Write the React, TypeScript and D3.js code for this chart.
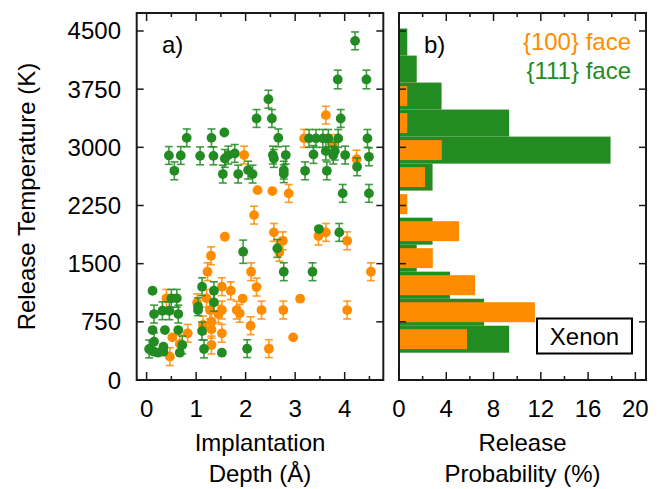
import React from 'react';
import * as d3 from 'd3';

// ---------- data ----------
const tempTicks = [0, 750, 1500, 2250, 3000, 3750, 4500];
const depthTicks = [0, 1, 2, 3, 4];
const depthMinor = [0.5, 1.5, 2.5, 3.5, 4.5];
const probTicks = [0, 4, 8, 12, 16, 20];
const probMinor = [2, 6, 10, 14, 18];

// [depth (Å), release temperature (K), error (K)]
const face111: [number, number, number][] = [
  [4.21, 4373, 115], [3.86, 3875, 120], [4.44, 3875, 120], [2.46, 3621, 115],
  [2.22, 3372, 115], [2.53, 3372, 115], [3.92, 3372, 115],
  [0.81, 3122, 115], [1.31, 3122, 115], [2.66, 3122, 115], [3.28, 3115, 115],
  [3.42, 3115, 115], [3.56, 3115, 115], [3.67, 3115, 115], [3.87, 3115, 115],
  [4.46, 3115, 115], [1.57, 3191, 0],
  [0.45, 2895, 115], [0.69, 2895, 115], [1.08, 2890, 115], [1.35, 2890, 115],
  [1.58, 2857, 115], [1.65, 2900, 115], [1.78, 2921, 115], [2.55, 2900, 115],
  [2.57, 2857, 115], [2.81, 2900, 115], [3.37, 2908, 115], [3.62, 2951, 115],
  [3.80, 2951, 115], [3.77, 2900, 115], [4.01, 2900, 115], [4.49, 2878, 115],
  [4.25, 2749, 115], [0.56, 2697, 115], [1.54, 2655, 115], [1.85, 2655, 115],
  [2.05, 2706, 115], [2.14, 2655, 115], [2.77, 2706, 115], [2.77, 2660, 115],
  [3.20, 2697, 115], [3.64, 2697, 115], [3.96, 2406, 115], [4.49, 2406, 115],
  [3.48, 1946, 0], [3.89, 1903, 115], [1.95, 1654, 150], [2.64, 1697, 115],
  [2.77, 1396, 115], [3.35, 1396, 115],
  [0.12, 1151, 0], [1.12, 1203, 115], [1.36, 1151, 115], [0.50, 1053, 115],
  [0.61, 1053, 115], [1.04, 945, 115], [1.04, 902, 0], [1.36, 1001, 115],
  [0.32, 893, 115], [0.46, 893, 115], [0.15, 850, 115], [0.64, 850, 115],
  [0.12, 644, 0], [0.37, 644, 0], [0.64, 644, 0], [1.12, 631, 115],
  [0.15, 494, 115], [0.72, 451, 115], [0.05, 400, 115], [0.15, 365, 0],
  [0.23, 352, 0], [0.34, 365, 0], [0.34, 429, 0], [0.10, 380, 0],
  [0.67, 352, 0], [1.16, 400, 115], [1.52, 352, 0], [2.03, 404, 115],
];

const face100: [number, number, number][] = [
  [3.62, 3415, 115], [3.18, 3115, 115], [3.75, 3050, 115], [1.97, 2900, 115],
  [4.24, 2848, 115], [2.24, 2448, 0], [2.54, 2436, 0], [2.87, 2406, 115],
  [2.17, 2126, 115], [2.57, 1903, 115], [2.75, 1795, 115], [3.47, 1856, 115],
  [3.62, 1903, 115], [4.05, 1795, 115], [1.58, 1847, 0], [1.30, 1602, 115],
  [2.68, 1646, 115], [1.23, 1396, 115], [2.11, 1396, 115], [4.53, 1396, 115],
  [1.52, 1203, 115], [2.22, 1198, 115], [1.70, 1151, 115], [0.40, 1053, 115],
  [1.21, 1053, 115], [1.94, 1050, 0], [3.10, 1048, 0], [1.02, 996, 115],
  [1.28, 902, 115], [1.52, 902, 115], [1.82, 902, 115], [1.88, 860, 115],
  [1.45, 850, 115], [2.32, 902, 115], [2.76, 902, 115], [4.05, 902, 115],
  [1.31, 751, 115], [1.14, 709, 115], [2.10, 700, 115], [1.31, 653, 115],
  [0.83, 602, 115], [1.52, 602, 115], [0.52, 550, 0], [2.96, 550, 0],
  [0.67, 464, 115], [1.31, 451, 115], [2.47, 404, 115], [0.47, 301, 115],
];

// histogram bins (K) and release probability (%)
const binEdges = [352, 700, 1048, 1397, 1745, 2093, 2442, 2790, 3138, 3487, 3835, 4183, 4532];
const hist111 = [9.32, 7.2, 4.32, 1.5, 2.84, 0, 2.84, 17.9, 9.32, 3.6, 1.5, 0.7];
const hist100 = [5.76, 11.5, 6.44, 2.86, 5.08, 0.7, 2.2, 3.62, 0.7, 0.7, 0, 0];

// ---------- style ----------
const GREEN = '#228B22';
const ORANGE = '#FF8C00';
const INK = '#1a1a1a';
const FONT = '"Liberation Sans", Arial, Helvetica, sans-serif';
const FS = 24;

export default function App() {
  const W = 669, H = 489;
  const y = d3.scaleLinear().domain([0, 4732]).range([380, 13]);
  const xa = d3.scaleLinear().domain([-0.2, 4.78]).range([136.7, 383.3]);
  const xb = d3.scaleLinear().domain([0, 20.9]).range([399, 646]);
  const [aL, aR] = xa.range();
  const [bL, bR] = xb.range();
  const yB = y.range()[0], yT = y.range()[1];
  const major = 8, minor = 4, ytick = 7;

  const errBars = (pts: [number, number, number][], color: string) =>
    pts.filter(p => p[2] > 0).map((p, i) => {
      const cx = xa(p[0]);
      const y1 = y(p[1] - p[2]);
      const y2 = y(p[1] + p[2]);
      return (
        <g key={'e' + color + i} stroke={color} strokeWidth={1.6} strokeOpacity={0.85}>
          <line x1={cx} x2={cx} y1={y1} y2={y2} />
          <line x1={cx - 4} x2={cx + 4} y1={y1} y2={y1} />
          <line x1={cx - 4} x2={cx + 4} y1={y2} y2={y2} />
        </g>
      );
    });
  const dots = (pts: [number, number, number][], color: string) =>
    pts.map((p, i) => <circle key={'d' + color + i} cx={xa(p[0])} cy={y(p[1])} r={4.9} fill={color} />);

  const bins = hist111.map((_, i) => ({ lo: binEdges[i], hi: binEdges[i + 1] }));

  const tickText = { fontFamily: FONT, fontSize: FS, fill: '#000' } as const;

  return (
    <svg width={W} height={H} style={{ position: 'absolute', left: 0, top: 0, background: '#fff' }}>
      <rect x={0} y={0} width={W} height={H} fill="#fff" />

      {/* ---------- panel a ---------- */}
      {errBars(face100, ORANGE)}
      {dots(face100, ORANGE)}
      {errBars(face111, GREEN)}
      {dots(face111, GREEN)}

      {/* ---------- panel b ---------- */}
      {bins.map((b, i) => hist111[i] > 0 && (
        <rect key={'g' + i} x={xb(0)} y={y(b.hi)} width={xb(hist111[i]) - xb(0)} height={y(b.lo) - y(b.hi)} fill={GREEN} />
      ))}
      {bins.map((b, i) => {
        if (hist100[i] <= 0) return null;
        const h = y(b.lo) - y(b.hi);
        return <rect key={'o' + i} x={xb(0)} y={y(b.hi) + h * 0.13} width={xb(hist100[i]) - xb(0)} height={h * 0.74} fill={ORANGE} />;
      })}

      {/* frames */}
      <rect x={aL} y={yT} width={aR - aL} height={yB - yT} fill="none" stroke={INK} strokeWidth={2} />
      <rect x={bL} y={yT} width={bR - bL} height={yB - yT} fill="none" stroke={INK} strokeWidth={2} />

      {/* y ticks both panels */}
      {tempTicks.map(t => (
        <g key={'yt' + t} stroke={INK} strokeWidth={1.5}>
          <line x1={aL} x2={aL + ytick} y1={y(t)} y2={y(t)} />
          <line x1={aR - ytick} x2={aR} y1={y(t)} y2={y(t)} />
          <line x1={bL} x2={bL + ytick} y1={y(t)} y2={y(t)} />
          <line x1={bR - ytick} x2={bR} y1={y(t)} y2={y(t)} />
        </g>
      ))}
      {tempTicks.map(t => (
        <text key={'yl' + t} x={121} y={y(t) + 8.5} textAnchor="end" {...tickText}>{t}</text>
      ))}

      {/* x ticks panel a */}
      {depthTicks.map(t => (
        <g key={'xa' + t} stroke={INK} strokeWidth={1.5}>
          <line x1={xa(t)} x2={xa(t)} y1={yB} y2={yB - major} />
          <line x1={xa(t)} x2={xa(t)} y1={yT} y2={yT + major} />
        </g>
      ))}
      {depthMinor.map(t => (
        <g key={'xam' + t} stroke={INK} strokeWidth={1.5}>
          <line x1={xa(t)} x2={xa(t)} y1={yB} y2={yB - minor} />
          <line x1={xa(t)} x2={xa(t)} y1={yT} y2={yT + minor} />
        </g>
      ))}
      {depthTicks.map(t => (
        <text key={'xal' + t} x={xa(t)} y={417} textAnchor="middle" {...tickText}>{t}</text>
      ))}

      {/* x ticks panel b */}
      {probTicks.map(t => (
        <g key={'xb' + t} stroke={INK} strokeWidth={1.5}>
          <line x1={xb(t)} x2={xb(t)} y1={yB} y2={yB - major} />
          <line x1={xb(t)} x2={xb(t)} y1={yT} y2={yT + major} />
        </g>
      ))}
      {probMinor.map(t => (
        <g key={'xbm' + t} stroke={INK} strokeWidth={1.5}>
          <line x1={xb(t)} x2={xb(t)} y1={yB} y2={yB - minor} />
          <line x1={xb(t)} x2={xb(t)} y1={yT} y2={yT + minor} />
        </g>
      ))}
      {probTicks.map(t => (
        <text key={'xbl' + t} x={xb(t)} y={417} textAnchor="middle" {...tickText}>{t}</text>
      ))}

      {/* axis titles */}
      <text transform={`translate(35,${(yB + yT) / 2}) rotate(-90)`} textAnchor="middle" {...tickText}>Release Temperature (K)</text>
      <text x={(aL + aR) / 2} y={451} textAnchor="middle" {...tickText}>Implantation</text>
      <text x={(aL + aR) / 2} y={482} textAnchor="middle" {...tickText}>Depth (Å)</text>
      <text x={(bL + bR) / 2} y={451} textAnchor="middle" {...tickText}>Release</text>
      <text x={(bL + bR) / 2} y={482} textAnchor="middle" {...tickText}>Probability (%)</text>

      {/* panel labels and legend */}
      <text x={162} y={53} {...tickText}>a)</text>
      <text x={424} y={53} {...tickText}>b)</text>
      <text x={631} y={50} textAnchor="end" fontFamily={FONT} fontSize={FS} fill={ORANGE}>{'{100} face'}</text>
      <text x={631} y={79} textAnchor="end" fontFamily={FONT} fontSize={FS} fill={GREEN}>{'{111} face'}</text>

      <rect x={537} y={318.5} width={95} height={35} fill="#fff" stroke="#000" strokeWidth={2} />
      <text x={584.5} y={344.5} textAnchor="middle" {...tickText}>Xenon</text>
    </svg>
  );
}
